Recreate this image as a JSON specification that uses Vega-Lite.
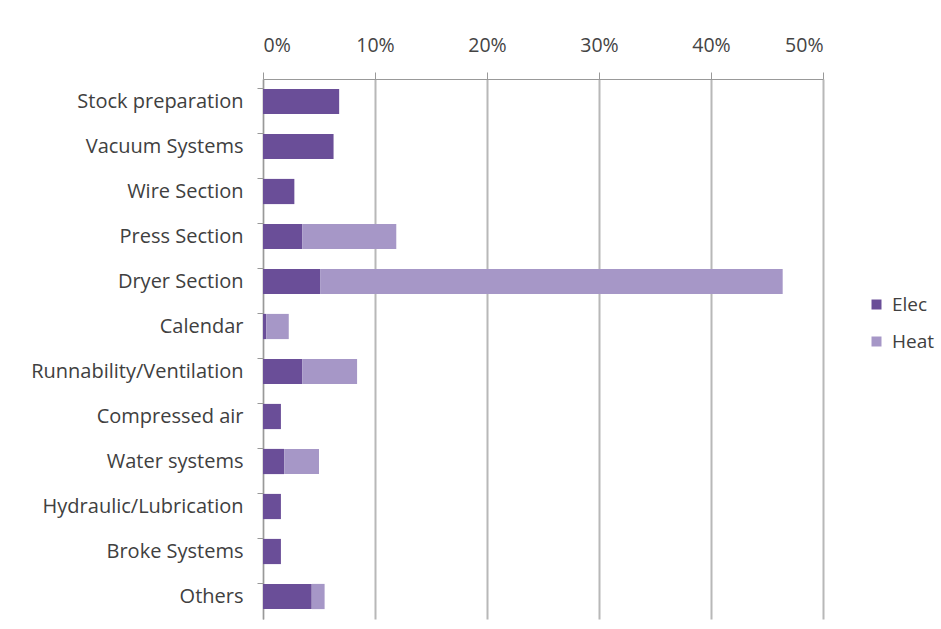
{
  "$schema": "https://vega.github.io/schema/vega-lite/v6.json",
  "width": 560,
  "height": 540,
  "autosize": {"type": "none"},
  "padding": {"left": 263, "top": 79, "right": 118, "bottom": 10},
  "background": "white",
  "config": {
    "view": {"stroke": null},
    "font": "Open Sans"
  },
  "data": {
    "values": [
      {"cat": "Stock preparation", "type": "Elec", "v": 0.068, "o": 1},
      {"cat": "Vacuum Systems", "type": "Elec", "v": 0.063, "o": 1},
      {"cat": "Wire Section", "type": "Elec", "v": 0.028, "o": 1},
      {"cat": "Press Section", "type": "Elec", "v": 0.035, "o": 1},
      {"cat": "Press Section", "type": "Heat", "v": 0.084, "o": 2},
      {"cat": "Dryer Section", "type": "Elec", "v": 0.051, "o": 1},
      {"cat": "Dryer Section", "type": "Heat", "v": 0.413, "o": 2},
      {"cat": "Calendar", "type": "Elec", "v": 0.003, "o": 1},
      {"cat": "Calendar", "type": "Heat", "v": 0.020, "o": 2},
      {"cat": "Runnability/Ventilation", "type": "Elec", "v": 0.035, "o": 1},
      {"cat": "Runnability/Ventilation", "type": "Heat", "v": 0.049, "o": 2},
      {"cat": "Compressed air", "type": "Elec", "v": 0.016, "o": 1},
      {"cat": "Water systems", "type": "Elec", "v": 0.019, "o": 1},
      {"cat": "Water systems", "type": "Heat", "v": 0.031, "o": 2},
      {"cat": "Hydraulic/Lubrication", "type": "Elec", "v": 0.016, "o": 1},
      {"cat": "Broke Systems", "type": "Elec", "v": 0.016, "o": 1},
      {"cat": "Others", "type": "Elec", "v": 0.0435, "o": 1},
      {"cat": "Others", "type": "Heat", "v": 0.0115, "o": 2}
    ]
  },
  "mark": {"type": "bar"},
  "encoding": {
    "y": {
      "field": "cat",
      "type": "nominal",
      "sort": null,
      "title": null,
      "scale": {"paddingInner": 0.44, "paddingOuter": 0.22},
      "axis": {
        "bandPosition": 0,
        "tickSize": 6,
        "tickColor": "#999999",
        "domainColor": "#999999",
        "labelPadding": 14,
        "labelFontSize": 20,
        "labelColor": "#404040",
        "labelLimit": 300,
        "grid": false
      }
    },
    "x": {
      "field": "v",
      "type": "quantitative",
      "stack": "zero",
      "title": null,
      "scale": {"domain": [0, 0.5], "nice": false},
      "axis": {
        "orient": "top",
        "values": [0, 0.1, 0.2, 0.3, 0.4, 0.5],
        "format": ".0%",
        "tickSize": 7,
        "tickColor": "#999999",
        "domainColor": "#999999",
        "labelPadding": 17,
        "labelFontSize": 19.5,
        "labelColor": "#444444",
        "grid": true,
        "gridColor": "#b8b8b8",
        "gridWidth": 2
      }
    },
    "color": {
      "field": "type",
      "type": "nominal",
      "title": null,
      "scale": {"domain": ["Elec", "Heat"], "range": ["#6a4e98", "#a697c7"]},
      "legend": {
        "orient": "none",
        "legendX": 604,
        "legendY": 216,
        "symbolType": "square",
        "symbolSize": 100,
        "symbolStrokeWidth": 0,
        "labelFontSize": 19,
        "labelColor": "#404040",
        "rowPadding": 17,
        "labelOffset": 6
      }
    },
    "order": {"field": "o", "type": "quantitative"}
  }
}
